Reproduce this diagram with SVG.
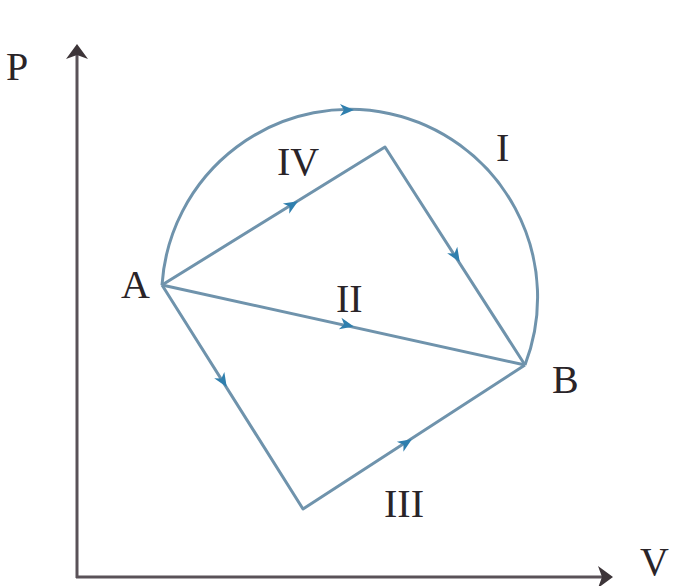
<svg xmlns="http://www.w3.org/2000/svg" xmlns:xlink="http://www.w3.org/1999/xlink" width="682" height="586" viewBox="0 0 682 586">
<style>
.axis{stroke:#5a5258;stroke-width:3;fill:none}
.path{stroke:#6f93ac;stroke-width:3;fill:none;stroke-linejoin:round}
.lbl{font-family:"Liberation Serif","Times New Roman",serif;font-size:40px;fill:#2a2428}
.ah{fill:#2f7fae}
</style>
<defs>
<path id="ah" d="M7,0 L-7,-6 L-3,0 L-7,6 Z"/>
</defs>
<rect width="682" height="586" fill="#ffffff"/>
<g id="axes">
<path class="axis" d="M77,578 L77,50"/>
<path d="M77,44 L88,59 L77,55 L66,59 Z" fill="#3d3539"/>
<path class="axis" d="M76,577 L606,577"/>
<path d="M613,577 L598,588 L602,577 L598,566 Z" fill="#3d3539"/>
<text class="lbl" x="6" y="80">P</text>
<text class="lbl" x="640" y="575" font-size="38">V</text>
</g>
<g id="connectors">
<path id="pathI" class="path" d="M162,285 A188,188 0 1 1 525,365"/>
<path id="pathII" class="path" d="M162,285 L525,365"/>
<path id="pathIII" class="path" d="M162,285 L303,509 L525,365"/>
<path id="pathIV" class="path" d="M162,285 L385,147 L525,365"/>
<use xlink:href="#ah" class="ah" transform="translate(347,110) rotate(0)"/>
<use xlink:href="#ah" class="ah" transform="translate(292,205) rotate(-31.7)"/>
<use xlink:href="#ah" class="ah" transform="translate(456,256) rotate(57.3)"/>
<use xlink:href="#ah" class="ah" transform="translate(347,325) rotate(12.4)"/>
<use xlink:href="#ah" class="ah" transform="translate(223,381) rotate(57.7)"/>
<use xlink:href="#ah" class="ah" transform="translate(406,443) rotate(-33)"/>
</g>
<g id="nodeA"><text class="lbl" x="121" y="298">A</text></g>
<g id="nodeB"><text class="lbl" x="552" y="393">B</text></g>
<g id="labels">
<text class="lbl" x="496" y="161">I</text>
<text class="lbl" x="277" y="175">IV</text>
<text class="lbl" x="336" y="312">II</text>
<text class="lbl" x="384" y="517">III</text>
</g>
</svg>
